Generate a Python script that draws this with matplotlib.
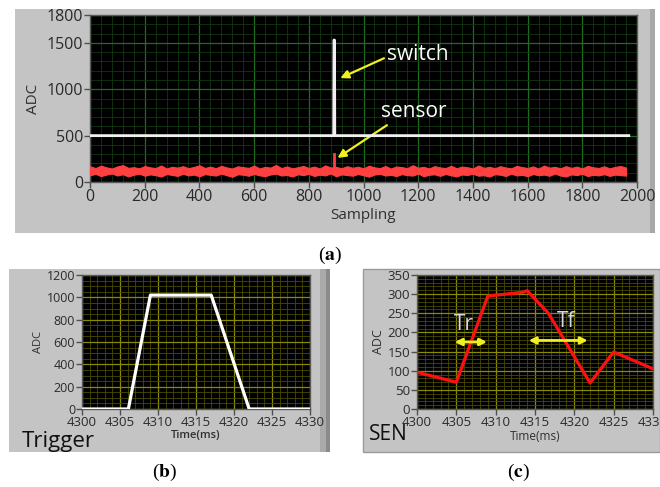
import matplotlib
matplotlib.use("Agg")
import matplotlib.pyplot as plt
from matplotlib.patches import Rectangle
from matplotlib.ticker import MultipleLocator

plt.rcParams['font.family'] = ['Open Sans', 'DejaVu Sans']
plt.rcParams['mathtext.fontset'] = 'stix'

## (a) switch / sensor sampling, noise envelope read every 20 samples
sample_pos = list(range(0, 1980, 20))
sensor_hi = [170, 150, 176, 158, 145, 168, 182, 152, 160, 147, 172, 158, 150, 178, 146, 164, 155, 171, 149, 162,
             180, 151, 166, 148, 174, 157, 145, 169, 160, 152, 177, 146, 163, 155, 184, 150, 168, 147, 159, 173,
             151, 166, 145, 179, 156, 162, 148, 170, 153, 165, 147, 176, 158, 150, 172, 145, 167, 160, 149, 181,
             154, 163, 146, 171, 157, 150, 175, 148, 166, 159, 145, 178, 152, 164, 149, 170, 156, 147, 173, 161,
             150, 168, 145, 177, 155, 163, 148, 171, 152, 166, 146, 174, 158, 151, 169, 147, 163, 172, 155]
sensor_lo = [72, 88, 64, 80, 92, 70, 84, 60, 78, 90, 68, 82, 74, 58, 86, 76, 66, 89, 71, 80,
             62, 85, 77, 69, 91, 73, 56, 83, 79, 67, 87, 72, 63, 81, 90, 70, 76, 59, 84, 74,
             88, 65, 79, 71, 92, 61, 82, 75, 68, 86, 73, 57, 80, 89, 70, 77, 64, 85, 74, 69,
             91, 62, 78, 83, 66, 87, 72, 60, 81, 76, 89, 68, 74, 58, 84, 79, 65, 90, 71, 77,
             63, 86, 73, 80, 67, 92, 70, 59, 82, 75, 88, 64, 78, 71, 85, 66, 80, 74, 69]
spike_x = 892
spike_val = 300
switch_x = [0, 891, 892, 894, 895, 1970]
switch_y = [500, 500, 1530, 1530, 500, 500]

## (b) trigger
trig_t = [4300, 4306.1, 4309, 4317, 4322, 4330]
trig_v = [0, 0, 1020, 1020, 0, 0]

## (c) sensor response
sen_t = [4300, 4305, 4309, 4313.5, 4314, 4316.7, 4322, 4325, 4330]
sen_v = [96, 70, 295, 305, 309, 250, 68, 149, 105]

W, H = 660, 487
fig = plt.figure(figsize=(6.6, 4.87), dpi=100)
fig.patch.set_facecolor('white')

def px_rect(x0, y0, x1, y1, color='#c4c4c4', edge='none'):
    fig.patches.append(Rectangle((x0 / W, 1 - y1 / H), (x1 - x0) / W, (y1 - y0) / H,
                                 transform=fig.transFigure, facecolor=color, edgecolor=edge,
                                 lw=1, zorder=-5))

def px_axes(x0, y0, x1, y1):
    return fig.add_axes([x0 / W, 1 - y1 / H, (x1 - x0) / W, (y1 - y0) / H])

px_rect(15, 9, 655, 233)
px_rect(650, 9, 655, 233, color='#a8a8a8')
px_rect(9, 269, 330, 452)
px_rect(320, 269, 326, 452, color='#aaaaaa')
px_rect(326, 269, 330, 452, color='#8a8a8a')
px_rect(363, 269, 660, 452, edge='#9a9a9a')

def style(ax, major, minor, tsize_x, tsize_y):
    ax.set_facecolor('black')
    ax.set_axisbelow(True)
    ax.grid(True, which='major', color=major, lw=0.9)
    ax.grid(True, which='minor', color=minor, lw=0.6)
    for s in ax.spines.values():
        s.set_color('#5a5a5a')
        s.set_linewidth(1)
    ax.tick_params(which='major', direction='out', length=4, color='#505050', width=1,
                   labelcolor='#2a2a2a', pad=1)
    ax.tick_params(axis='x', labelsize=tsize_x)
    ax.tick_params(axis='y', labelsize=tsize_y)
    ax.tick_params(which='minor', length=0)

## panel (a)
ax1 = px_axes(90, 15, 637, 182)
ax1.fill_between(sample_pos, sensor_lo, sensor_hi, color='#ff4040', lw=0.8, edgecolor='#ff4040', zorder=3)
ax1.plot([spike_x, spike_x], [100, spike_val], color='#ff4040', lw=2, zorder=3)
ax1.plot(switch_x, switch_y, color='#f0f0f0', lw=2, zorder=4)
ax1.set_xlim(0, 2000)
ax1.set_ylim(0, 1800)
ax1.set_yticks([0, 500, 1000, 1500, 1800])
ax1.xaxis.set_major_locator(MultipleLocator(200))
ax1.xaxis.set_minor_locator(MultipleLocator(40))
ax1.yaxis.set_minor_locator(MultipleLocator(100))
style(ax1, '#1f6e1f', '#10380f', 11.5, 11.5)
ax1.set_ylabel('ADC', fontsize=11, color='#303030', labelpad=4)
ax1.set_xlabel('Sampling', fontsize=11, color='#303030', labelpad=2)
arr = dict(arrowstyle='-|>', color='#f0f020', lw=1.6, mutation_scale=12)
ax1.annotate('switch', xy=(915, 1120), xytext=(1085, 1370), fontsize=15, color='white',
             va='center', ha='left', arrowprops=dict(arr, shrinkA=0, shrinkB=0, relpos=(0, 0.4)))
ax1.annotate('sensor', xy=(905, 260), xytext=(1065, 755), fontsize=15, color='white',
             va='center', ha='left', arrowprops=dict(arr, shrinkA=0, shrinkB=0, relpos=(0.15, 0)))

## panel (b)
ax2 = px_axes(82, 275, 310, 409)
ax2.plot(trig_t, trig_v, color='white', lw=2.3, zorder=3)
ax2.set_xlim(4300, 4330)
ax2.set_ylim(0, 1200)
ax2.xaxis.set_major_locator(MultipleLocator(5))
ax2.xaxis.set_minor_locator(MultipleLocator(1))
ax2.yaxis.set_major_locator(MultipleLocator(200))
ax2.yaxis.set_minor_locator(MultipleLocator(50))
style(ax2, '#8a8a00', '#4a4a00', 9.5, 9)
ax2.set_ylabel('ADC', fontsize=8, color='#303030', labelpad=2)
ax2.set_xlabel('Time(ms)', fontsize=8, color='#303030', labelpad=1, fontweight='semibold')
fig.text(22 / W, 1 - 441 / H, 'Trigger', fontsize=16, color='#101010', va='center', ha='left')

## panel (c)
ax3 = px_axes(417, 275, 653, 409)
ax3.plot(sen_t, sen_v, color='#ff1010', lw=2.3, zorder=3)
ax3.set_xlim(4300, 4330)
ax3.set_ylim(0, 350)
ax3.xaxis.set_major_locator(MultipleLocator(5))
ax3.xaxis.set_minor_locator(MultipleLocator(1))
ax3.yaxis.set_major_locator(MultipleLocator(50))
ax3.yaxis.set_minor_locator(MultipleLocator(10))
style(ax3, '#8a8a00', '#4a4a00', 9.5, 9.5)
ax3.set_ylabel('ADC', fontsize=9, color='#303030', labelpad=2)
ax3.set_xlabel('Time(ms)', fontsize=8.5, color='#303030', labelpad=1)
dbl = dict(arrowstyle='<|-|>', color='#f0f020', lw=2, mutation_scale=10, shrinkA=0, shrinkB=0)
ax3.annotate('', xy=(4304.8, 175), xytext=(4308.9, 175), arrowprops=dbl)
ax3.annotate('', xy=(4314.2, 179), xytext=(4321.7, 179), arrowprops=dbl)
ax3.text(4306.0, 222, 'Tr', fontsize=15, color='#d8d8d8', ha='center', va='center')
ax3.text(4318.9, 228, 'Tf', fontsize=15, color='#d8d8d8', ha='center', va='center')
fig.text(369 / W, 1 - 435 / H, 'SEN', fontsize=15, color='#101010', va='center', ha='left')

## panel letters
for x, y, l in [(330, 255, 'a'), (165, 472, 'b'), (518, 472, 'c')]:
    fig.text(x / W, 1 - y / H, '(' + r'$\mathbf{' + l + '}$' + ')', fontsize=14,
             family='Liberation Serif', ha='center', va='center')

fig.savefig('out.png', dpi=100)
